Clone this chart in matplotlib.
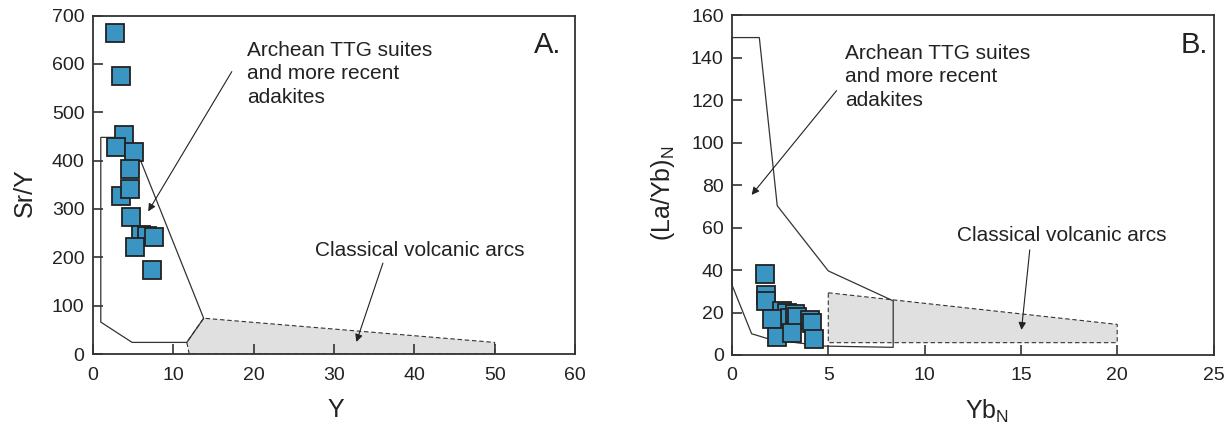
import matplotlib
matplotlib.use("Agg")
import matplotlib.pyplot as plt
from matplotlib.patches import Polygon

plt.rcParams['font.family'] = ['Liberation Sans', 'DejaVu Sans']

# ---------------- data ----------------
# Panel A: Sr/Y vs Y
a_y = [2.8, 3.5, 3.9, 2.9, 5.1, 4.6, 3.5, 4.6, 4.7, 6.0, 6.7, 7.6, 5.2, 7.4]
a_sry = [664, 575, 453, 429, 418, 383, 326, 342, 284, 247, 244, 242, 221, 174]

# Panel B: (La/Yb)N vs YbN
b_yb = [1.71, 1.76, 1.78, 2.58, 2.85, 3.0, 3.27, 2.09, 3.36, 4.05, 4.13, 2.35, 3.1, 4.25]
b_layb = [38.2, 28.1, 25.4, 20.7, 20.0, 17.3, 19.2, 17.0, 18.0, 16.5, 14.9, 8.6, 10.2, 7.5]

# Field outlines
a_ttg_x = [1.0, 4.8, 13.8, 11.7, 4.9, 1.0]
a_ttg_y = [448, 448, 74, 24, 24, 66]
a_arc_x = [12.0, 11.7, 13.8, 50.0, 50.0]
a_arc_y = [0, 24, 74, 24, 0]

b_ttg_x = [0.0, 1.42, 2.35, 5.0, 8.37, 8.37, 4.75, 2.0, 1.02, 0.0]
b_ttg_y = [149.5, 149.5, 70.3, 39.6, 25.5, 3.6, 4.2, 7.3, 10.0, 33.0]
b_arc_x = [5.0, 20.0, 20.0, 5.0]
b_arc_y = [29.3, 14.4, 5.8, 5.8]

a_xticks = [0, 10, 20, 30, 40, 50, 60]
a_yticks = [0, 100, 200, 300, 400, 500, 600, 700]
b_xticks = [0, 5, 10, 15, 20, 25]
b_yticks = [0, 20, 40, 60, 80, 100, 120, 140, 160]

# ---------------- styling ----------------
SQ_FC = '#3a95c2'
SQ_EC = '#222222'
LINE = '#333333'
GRAY = '#e1e0e0'
TXT = '#222222'

fig = plt.figure(figsize=(12.3, 4.23), dpi=100)
axA = fig.add_axes([0.0754, 0.1631, 0.3921, 0.8002])
axB = fig.add_axes([0.5951, 0.1608, 0.3915, 0.8031])


def style(ax, xt, yt):
    ax.set_xlim(xt[0], xt[-1])
    ax.set_ylim(yt[0], yt[-1])
    ax.set_xticks(xt)
    ax.set_yticks(yt)
    ax.tick_params(direction='in', length=7, width=1.2, color=LINE,
                   labelsize=14, labelcolor=TXT)
    ax.tick_params(axis='x', pad=9)
    ax.tick_params(axis='y', pad=6)
    for s in ax.spines.values():
        s.set_linewidth(1.3)
        s.set_color(LINE)


style(axA, a_xticks, a_yticks)
style(axB, b_xticks, b_yticks)

arrow = dict(arrowstyle='-|>', lw=0.8, color=TXT, mutation_scale=11,
             shrinkA=0, shrinkB=0)
TTG_TEXT = 'Archean TTG suites\nand more recent\nadakites'
ARC_TEXT = 'Classical volcanic arcs'

# ---------------- Panel A ----------------
axA.add_patch(Polygon(list(zip(a_arc_x, a_arc_y)), closed=True, facecolor=GRAY,
                      edgecolor=LINE, linestyle=(0, (4, 2.5)), linewidth=0.8, zorder=1))
axA.add_patch(Polygon(list(zip(a_ttg_x, a_ttg_y)), closed=True, facecolor='none',
                      edgecolor=LINE, linewidth=0.9, zorder=2))
axA.plot(a_y, a_sry, linestyle='none', marker='s', markersize=12.5,
         markerfacecolor=SQ_FC, markeredgecolor=SQ_EC, markeredgewidth=1.3, zorder=3)

axA.annotate('', xy=(6.9, 295), xytext=(17.3, 584), arrowprops=arrow, zorder=4)
axA.annotate('', xy=(32.8, 25), xytext=(36.1, 188), arrowprops=arrow, zorder=4)
axA.text(19.2, 648, TTG_TEXT, fontsize=15, ha='left', va='top',
         linespacing=1.3, color=TXT)
axA.text(27.6, 215, ARC_TEXT, fontsize=15, ha='left', va='center', color=TXT)
axA.text(58.3, 640, 'A.', fontsize=21, ha='right', va='center', color=TXT)

axA.set_xlabel('Y', fontsize=18, color=TXT)
axA.set_ylabel('Sr/Y', fontsize=18, color=TXT)
axA.xaxis.set_label_coords(0.504, -0.165)
axA.xaxis.label.set_va('center')
axA.yaxis.set_label_coords(-0.140, 0.476)
axA.yaxis.label.set_va('center')

# ---------------- Panel B ----------------
axB.add_patch(Polygon(list(zip(b_arc_x, b_arc_y)), closed=True, facecolor=GRAY,
                      edgecolor=LINE, linestyle=(0, (4, 2.5)), linewidth=0.8, zorder=1))
axB.add_patch(Polygon(list(zip(b_ttg_x, b_ttg_y)), closed=True, facecolor='none',
                      edgecolor=LINE, linewidth=0.9, zorder=2, clip_on=False))
axB.plot(b_yb, b_layb, linestyle='none', marker='s', markersize=12.5,
         markerfacecolor=SQ_FC, markeredgecolor=SQ_EC, markeredgewidth=1.3, zorder=3)

axB.annotate('', xy=(1.02, 75.4), xytext=(5.43, 124.5), arrowprops=arrow, zorder=4)
axB.annotate('', xy=(15.03, 11.8), xytext=(15.46, 49.5), arrowprops=arrow, zorder=4)
axB.text(5.86, 146.5, TTG_TEXT, fontsize=15, ha='left', va='top',
         linespacing=1.3, color=TXT)
axB.text(11.7, 56.5, ARC_TEXT, fontsize=15, ha='left', va='center', color=TXT)
axB.text(24.73, 146, 'B.', fontsize=21, ha='right', va='center', color=TXT)

axB.set_xlabel(r'Yb$_{\mathregular{N}}$', fontsize=18, color=TXT)
axB.set_ylabel(r'(La/Yb)$_{\mathregular{N}}$', fontsize=18, color=TXT)
axB.xaxis.set_label_coords(0.529, -0.167)
axB.xaxis.label.set_va('center')
axB.yaxis.set_label_coords(-0.1427, 0.477)
axB.yaxis.label.set_va('center')

fig.savefig('out.png', dpi=100)
